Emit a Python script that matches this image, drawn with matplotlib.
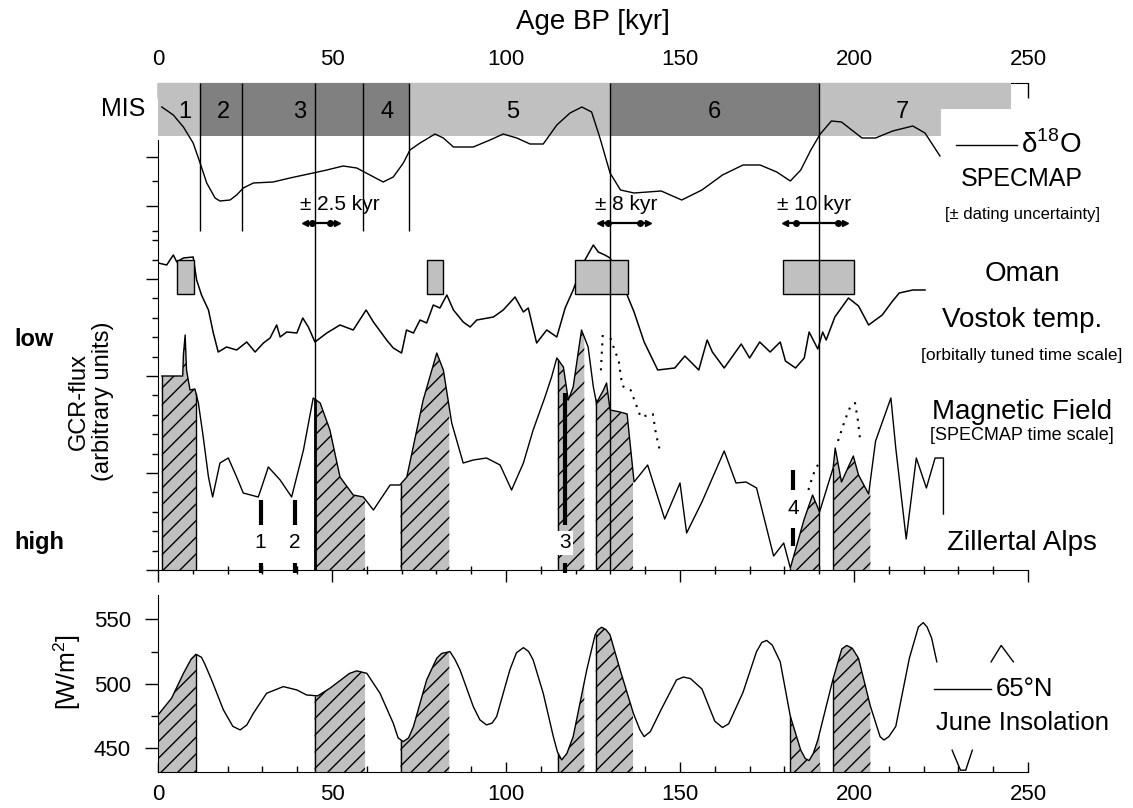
import numpy as np
import matplotlib.pyplot as plt
from matplotlib.patches import Rectangle
from matplotlib.lines import Line2D

plt.rcParams['font.family'] = ['Liberation Sans', 'DejaVu Sans']
plt.rcParams['hatch.linewidth'] = 1.0

nan = np.nan

# Marine isotope stages (kyr BP)
mis_edges = [0, 12, 24, 59, 72, 130, 190, 225]
mis_names = ['1', '2', '3', '4', '5', '6', '7']
mis_dark = [False, True, True, True, False, True, False]
mis_label_x = [7.8, 18.8, 40.6, 65.7, 102, 160, 214]
mis7_upper_end = 245

# SPECMAP d18O (arbitrary units, stacked into the upper part)
d18o_age = [1.1, 4.4, 7.3, 10.1, 12.1, 14.0, 16.4, 17.8, 20.7, 22.6, 24.5, 27.4, 33.1, 37.9,
            44.6, 48.5, 53.2, 57.1, 60.9, 64.7, 67.6, 70.5, 72.4, 75.3, 79.6, 82.0, 84.9,
            90.6, 95.4, 99.2, 103.1, 106.9, 110.7, 114.6, 118.4, 121.8, 124.6, 127.0, 129.9,
            132.9, 136.8, 144.6, 150.5, 156.3, 162.2, 168.1, 173.0, 177.8, 181.7, 184.7,
            187.6, 190.3, 193.5, 196.4, 202.3, 206.2, 211.1, 216.9, 220.4, 224.7]
d18o_val = [463, 455, 443, 427, 407, 387, 372, 369, 370, 375, 382, 387, 388, 392, 397, 400,
            404, 402, 395, 388, 393, 407, 420, 427, 436, 432, 423, 423, 430, 436, 432, 426,
            426, 445, 457, 463, 458, 432, 397, 380, 377, 379, 370, 380, 395, 405, 405, 398,
            389, 400, 420, 436, 449, 448, 432, 432, 439, 444, 437, 414]

# Vostok temperature (arbitrary units)
vostok_age = [0.1, 2.5, 4.4, 5.4, 7.3, 10.1, 11.1, 12.5, 14.5, 15.9, 17.3, 19.7, 22.6, 25.5,
              27.9, 30.3, 32.2, 34.1, 35.1, 37.0, 39.9, 41.6, 43.2, 45.1, 48.5, 52.3, 56.1,
              59.8, 61.9, 65.7, 67.6, 70.0, 71.4, 73.4, 75.3, 77.2, 79.1, 81.0, 83.0, 84.9,
              87.7, 89.7, 91.6, 96.4, 99.2, 102.6, 105.0, 106.4, 108.8, 111.7, 114.6, 117.0,
              119.3, 122.2, 125.1, 126.5, 128.4, 129.9, 134.8, 136.8, 139.7, 143.6, 148.5,
              151.4, 155.4, 157.8, 159.3, 162.7, 167.6, 170.0, 172.9, 175.9, 178.8, 180.3,
              183.2, 185.7, 187.1, 189.6, 191.0, 192.0, 194.5, 198.4, 201.3, 204.2, 208.1,
              211.1, 213.0, 216.9, 220.4]
vostok_val = [307, 305, 315, 308, 312, 313, 290, 275, 260, 237, 218, 223, 220, 228, 218, 227,
              232, 245, 233, 238, 237, 252, 243, 228, 237, 245, 240, 260, 248, 230, 222, 217,
              240, 237, 250, 247, 265, 262, 275, 260, 248, 243, 250, 253, 260, 273, 258, 262,
              227, 240, 233, 262, 280, 307, 325, 318, 315, 312, 275, 258, 228, 200, 202, 214,
              200, 230, 218, 202, 226, 212, 228, 218, 228, 209, 202, 212, 238, 221, 238, 230,
              253, 272, 264, 245, 255, 269, 277, 280, 280]

# Oman speleothem growth periods
oman_start = [5.4, 77.4, 119.8, 179.6]
oman_end = [10.3, 82.0, 135.0, 200.1]

# Magnetic field (GCR flux, arbitrary units)
mag_age = [1.1, 7.1, 7.3, 7.8, 8.2, 9.2, 10.6, 11.6, 13.0, 14.5, 15.7, 17.8, 20.2, 22.6, 24.5,
           28.8, 29.8, 31.7, 35.1, 38.4, 41.8, 44.6, 46.6, 49.4, 52.3, 56.1, 59.0, 61.9, 66.7,
           69.5, 71.5, 76.2, 80.1, 82.0, 84.4, 87.7, 90.6, 94.4, 98.3, 101.6, 105.0, 107.8,
           111.2, 113.1, 114.6, 116.5, 117.9, 119.3, 121.7, 123.6, 125.1, 126.0, 128.0, 128.9,
           129.9, 132.8, 134.8, 136.3, 136.8, 140.7, 145.6, 150.0, 151.9, 156.3, 162.7, 166.1,
           169.0, 172.0, 176.9, 179.8, 181.7, 185.7, 188.1, 190.1, 194.0, 194.6, 196.4, 199.8,
           201.3, 204.2, 206.2, 210.6, 212.0, 215.0, 217.9, 220.8, 223.3, 225.7, 225.7]
mag_val = [194, 194, 215, 235, 200, 180, 181, 167, 133, 93, 73, 107, 112, 93, 77, 73, 83, 103,
           90, 73, 120, 172, 167, 140, 93, 75, 73, 60, 85, 85, 93, 170, 217, 200, 147, 107, 110,
           112, 105, 80, 107, 140, 173, 193, 212, 203, 170, 183, 240, 223, 183, 167, 180, 187,
           160, 158, 156, 105, 88, 105, 51, 87, 37, 68, 119, 87, 88, 82, 14, 27, 2, 51, 75, 58,
           102, 122, 88, 114, 95, 76, 129, 172, 122, 31, 112, 82, 112, 112, 56]

# dotted alternative segments
dot_a_age = [127.8, 127.5, 127.2]
dot_a_val = [235, 215, 195]
dot_b_age = [130.0, 130.9, 132.4, 133.4, 135.8, 138.7, 142.2, 143.1, 144.1]
dot_b_val = [232, 223, 209, 184, 180, 153, 156, 136, 121]
dot_c_age = [186.9, 188.2, 190.3]
dot_c_val = [80, 95, 110]
dot_d_age = [195.4, 197.4, 198.9, 200.3, 201.1, 201.8]
dot_d_val = [129, 150, 163, 167, 150, 129]

# Zillertal Alps periods (hatched)
zill_start = [0.0, 45.0, 69.7, 114.9, 125.8, 181.7, 194.0]
zill_end = [10.9, 59.5, 83.7, 122.5, 136.5, 190.2, 204.7]

# numbered events
event_age = [29.5, 39.4, 117.0, 182.5]
event_name = ['1', '2', '3', '4']
event_upper = [(45, 70), (45, 70), (45, 177), (80, 100)]
event_lower = [(-3, 7), (-3, 7), (-3, 7), (24, 42)]
event_label_y = [27, 27, 27, 61]

# dating uncertainties
date_age = [45, 130, 190]
date_text = ['\u00b1 2.5 kyr', '\u00b1 8 kyr', '\u00b1 10 kyr']
date_text_x = [40.8, 125.6, 177.8]
date_bar = [(42.2, 51.3), (127.0, 140.7), (180.3, 197.4)]
date_dots = [(44.2, 49.4), (129.4, 138.5), (183.2, 195.4)]

# 65N June insolation (W/m2)
ins_age = [0, 3.9, 7.3, 9.5, 10.9, 12.5, 13.5, 15.4, 18.8, 21.5,
           23.6, 25.5, 27.4, 31.2, 36.0, 39.9, 42.7, 45.9, 49.4, 53.2,
           55.0, 57.1, 60.0, 63.8, 67.6, 69.0, 70.5, 72.0, 73.4, 77.2,
           80.1, 81.5, 83.9, 85.3, 86.8, 90.6, 92.5, 94.4, 96.0, 97.3,
           101.1, 103.0, 105.0, 106.5, 107.8, 110.7, 113.6, 114.8, 116.0, 117.5,
           119.3, 123.2, 125.6, 126.5, 127.5, 128.7, 129.9, 132.8, 136.6, 138.5,
           139.7, 141.5, 144.6, 149.0, 151.0, 153.0, 156.3, 160.0, 162.2, 164.0,
           168.1, 172.0, 173.5, 174.9, 176.5, 178.8, 181.7, 184.7, 186.0, 187.1,
           188.3, 189.6, 194.0, 196.5, 197.9, 199.5, 201.3, 204.7, 207.5, 208.6,
           210.0, 212.0, 215.9, 218.5, 219.9, 221.0, 222.3, 223.8, 226.0, 228.2,
           230.6, 232.1, 234.0, 236.7, 239.4, 242.3, 245.8]
ins_val = [475.8, 488.8, 508, 519, 522.9, 520.5, 515, 503, 479.7, 467,
           464.2, 468, 477.1, 492.6, 497.8, 495.2, 491.3, 490.6, 496.5, 504.3,
           508, 510, 508.1, 492.6, 469.4, 458, 455.2, 458, 466.8, 503,
           519.8, 523.5, 524.9, 519, 510.7, 482.3, 472, 468.1, 469.5, 474.5,
           510.7, 524, 528, 525, 518.5, 492.6, 459, 447, 441, 446,
           459, 510.7, 537.9, 542, 543.8, 542, 537.9, 510.7, 477.1, 464.2,
           459, 463, 480.1, 503, 505.2, 504, 496, 471, 466.1, 469,
           493.3, 525, 532, 533.6, 530, 517, 474.8, 448.5, 442, 440.5,
           446, 456.4, 503.9, 527, 529.7, 527.5, 519.7, 482.7, 459, 456.4,
           459, 466.9, 519.7, 544, 547.4, 544, 535.5, 517, nan, 448.5,
           433, 433, 448.5, nan, 517, 529.7, 517]

W, H = 1133, 808
LIGHT, DARK = '#c0c0c0', '#808080'


def fx(px):
    return px / W


def fy(py):
    return 1 - py / H


def hatch_fill(axis, x, y, x0, x1, base):
    x = np.asarray(x, float)
    y = np.asarray(y, float)
    x0 = max(x0, x[0])
    inner = x[(x > x0) & (x < x1)]
    xx = np.concatenate([[x0], inner, [x1]])
    yy = np.interp(xx, x, y)
    axis.fill_between(xx, base, yy, facecolor=LIGHT, edgecolor='k', hatch='//',
                      linewidth=0, zorder=2)
    return x0


fig = plt.figure(figsize=(W / 100, H / 100), dpi=100)
ax = fig.add_axes([fx(158), fy(570), 870 / W, 487 / H])
ax2 = fig.add_axes([fx(158), fy(772), 870 / W, 177 / H])

# ---------------- upper / middle panel ----------------
ax.set_xlim(0, 250)
ax.set_ylim(0, 487)

for i in range(len(mis_names)):
    x0, x1 = mis_edges[i], mis_edges[i + 1]
    ax.add_patch(Rectangle((x0, 434), x1 - x0, 53, facecolor=DARK if mis_dark[i] else LIGHT,
                           edgecolor='none', zorder=1))
    ax.text(mis_label_x[i], 458, mis_names[i], ha='center', va='center', fontsize=17, zorder=2)
ax.add_patch(Rectangle((mis_edges[-1], 461), mis7_upper_end - mis_edges[-1], 26,
                       facecolor=LIGHT, edgecolor='none', zorder=1))

ax.plot(d18o_age, d18o_val, color='k', lw=1.0, zorder=3)
ax.plot(vostok_age, vostok_val, color='k', lw=1.1, zorder=3)

for s, e in zip(oman_start, oman_end):
    ax.add_patch(Rectangle((s, 276), e - s, 34, facecolor=LIGHT, edgecolor='k', lw=1.0,
                           zorder=3.5))

ax.vlines([12, 24, 59, 72], 339, 487, color='k', lw=1.0, zorder=4)
ax.vlines(date_age, 0, 487, color='k', lw=1.0, zorder=4)

# dating uncertainty bars
for tx, t, (b0, b1), dots in zip(date_text_x, date_text, date_bar, date_dots):
    ax.text(tx, 366, t, ha='left', va='center', fontsize=15, zorder=5)
    ax.plot([b0, b1], [347, 347], color='k', lw=1.6, zorder=5)
    ax.plot(dots, [347, 347], 'o', color='k', ms=4, zorder=5)
    ax.plot([b0], [347], marker='<', color='k', ms=4, zorder=5)
    ax.plot([b1], [347], marker='>', color='k', ms=4, zorder=5)

# Zillertal hatched periods under the magnetic field curve
for k, (s, e) in enumerate(zip(zill_start, zill_end)):
    x0 = hatch_fill(ax, mag_age, mag_val, s, e, 0)
    h0 = np.interp(x0, mag_age, mag_val)
    ax.vlines(x0, 0, h0, color='k', lw=2.0 if k == 1 else 1.0, zorder=3)
ax.vlines(zill_end[0], 0, np.interp(zill_end[0], mag_age, mag_val), color='k', lw=1.0, zorder=3)

ax.plot(mag_age, mag_val, color='k', lw=1.0, zorder=3)
for xa, ya in [(dot_a_age, dot_a_val), (dot_b_age, dot_b_val),
               (dot_c_age, dot_c_val), (dot_d_age, dot_d_val)]:
    ax.plot(xa, ya, color='k', lw=1.5, ls=(0, (1, 3)), zorder=3)

for xa, name, up, lo, ly in zip(event_age, event_name, event_upper, event_lower, event_label_y):
    ax.plot([xa, xa], up, color='k', lw=3.0, solid_capstyle='butt', zorder=5)
    ax.plot([xa, xa], lo, color='k', lw=3.0, solid_capstyle='butt', zorder=5, clip_on=False)
    ax.text(xa, ly, name, ha='center', va='center', fontsize=15, zorder=6,
            bbox=dict(facecolor='white', edgecolor='none', pad=1.5))

# axes decoration
for sp in ['top', 'right']:
    ax.spines[sp].set_visible(False)
ax.spines['left'].set_bounds(0, 430)
ax.set_xticks(range(0, 251, 50))
ax.set_xticks(range(0, 251, 10), minor=True)
ax.tick_params(axis='x', which='major', direction='out', length=8.6, width=1,
               labelbottom=False, top=False)
ax.tick_params(axis='x', which='minor', direction='inout', length=6, width=1, top=False)
ax.set_yticks([0, 97, 194, 291, 364, 413])
ax.set_yticks([19.4, 38.8, 58.2, 77.6, 116.4, 135.8, 155.2, 174.6, 213.4, 232.8, 252.2,
               271.6, 310.4, 329.8, 339, 389], minor=True)
ax.tick_params(axis='y', which='major', direction='out', length=8.6, width=1, labelleft=False)
ax.tick_params(axis='y', which='minor', direction='out', length=4.3, width=1)

sec = ax.secondary_xaxis('top')
sec.set_xticks(range(0, 251, 50))
sec.set_xticks(range(0, 251, 10), minor=True)
sec.tick_params(which='major', direction='in', length=10.8, width=1, labelsize=16, pad=9)
sec.tick_params(which='minor', direction='in', length=5, width=1)
sec.set_xlabel('Age BP [kyr]', fontsize=20, labelpad=15)

# ---------------- insolation panel ----------------
ax2.set_xlim(0, 250)
ax2.set_ylim(431.6, 568.8)
for k, (s, e) in enumerate(zip(zill_start, zill_end)):
    hatch_fill(ax2, ins_age, ins_val, s, e, 400)
    if k > 0:
        ax2.vlines(s, 400, np.interp(s, ins_age, ins_val), color='k', lw=1.0, zorder=3)
ax2.vlines(zill_end[0], 400, np.interp(zill_end[0], ins_age, ins_val), color='k', lw=1.0,
           zorder=3)
ax2.plot(ins_age, ins_val, color='k', lw=1.0, zorder=3)

for sp in ['top', 'right']:
    ax2.spines[sp].set_visible(False)
ax2.set_xticks(range(0, 251, 50))
ax2.set_xticks(range(0, 251, 10), minor=True)
ax2.tick_params(axis='x', which='major', direction='in', length=7.2, width=1, labelsize=16,
                pad=9)
ax2.tick_params(axis='x', which='minor', direction='in', length=4.3, width=1)
ax2.set_yticks([450, 500, 550])
ax2.set_yticks([475, 525], minor=True)
ax2.tick_params(axis='y', which='major', direction='out', length=9.4, width=1, labelsize=16,
                pad=10)
ax2.tick_params(axis='y', which='minor', direction='out', length=5, width=1)

# ---------------- labels ----------------
fig.text(fx(145), fy(109), 'MIS', ha='right', va='center', fontsize=18)
fig.text(fx(14), fy(340), 'low', ha='left', va='center', fontsize=17, weight='bold')
fig.text(fx(14), fy(542), 'high', ha='left', va='center', fontsize=17, weight='bold')
fig.text(fx(91), fy(401), 'GCR-flux\n(arbitrary units)', rotation=90, ha='center',
         va='center', fontsize=17, linespacing=1.1, multialignment='center')
fig.text(fx(67), fy(672), '[W/m$^{\\mathregular{2}}$]', rotation=90, ha='center', va='center',
         fontsize=18)

fig.add_artist(Line2D([fx(956), fx(1017)], [fy(145), fy(145)], color='k', lw=1.0))
fig.text(fx(1021), fy(145), '\u03b4$^{\\mathregular{18}}$O', ha='left', va='center', fontsize=20)
fig.text(fx(1022), fy(179), 'SPECMAP', ha='center', va='center', fontsize=18)
fig.text(fx(1022), fy(214), '[\u00b1 dating uncertainty]', ha='center', va='center', fontsize=12)
fig.text(fx(1022), fy(274), 'Oman', ha='center', va='center', fontsize=20)
fig.text(fx(1022), fy(320), 'Vostok temp.', ha='center', va='center', fontsize=20)
fig.text(fx(1022), fy(356), '[orbitally tuned time scale]', ha='center', va='center',
         fontsize=12.5)
fig.text(fx(1022), fy(412), 'Magnetic Field', ha='center', va='center', fontsize=20)
fig.text(fx(1022), fy(436), '[SPECMAP time scale]', ha='center', va='center', fontsize=13)
fig.text(fx(1022), fy(543), 'Zillertal Alps', ha='center', va='center', fontsize=20)

fig.add_artist(Line2D([fx(934), fx(991)], [fy(689), fy(689)], color='k', lw=1.0))
fig.text(fx(996), fy(689), '65\u00b0N', ha='left', va='center', fontsize=18.5)
fig.text(fx(1022), fy(723), 'June Insolation', ha='center', va='center', fontsize=18.5)

fig.savefig('out.png', dpi=100)
